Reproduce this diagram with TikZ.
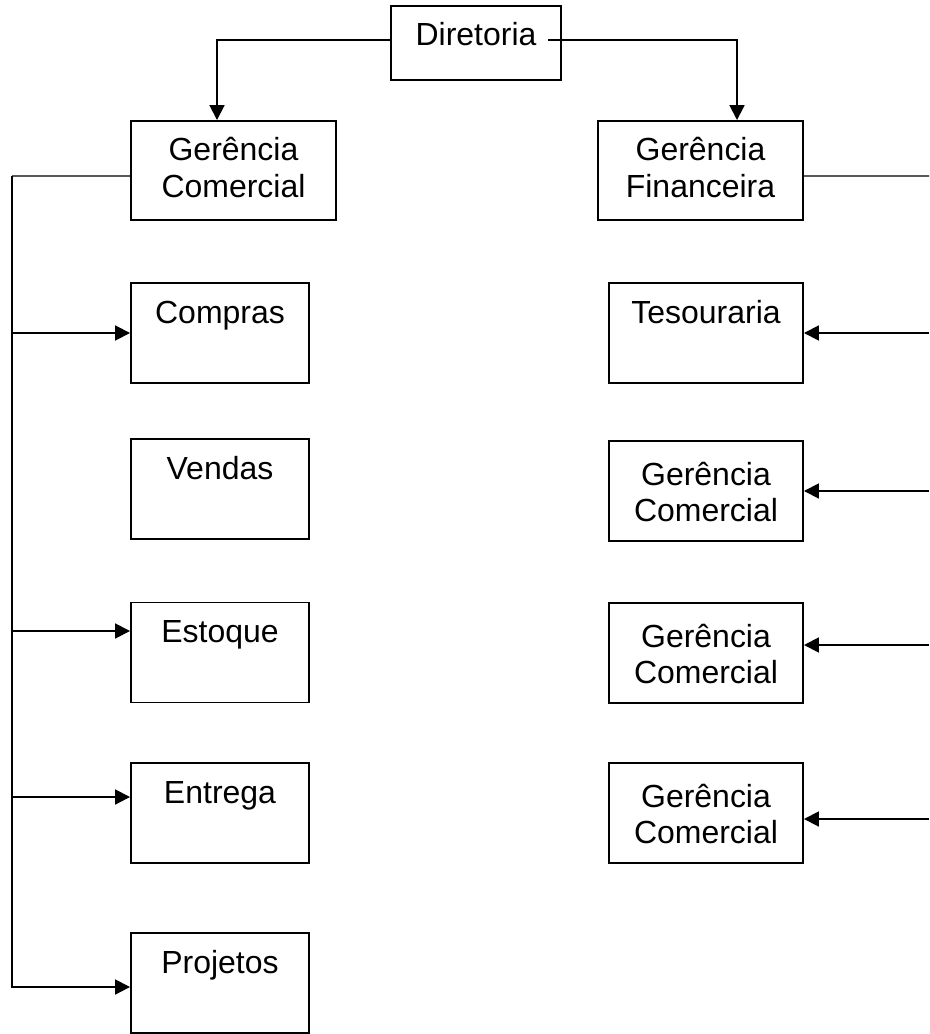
\documentclass[tikz,border=0pt]{standalone}
\usepackage{fontspec}
\setmainfont{Liberation Sans}
\usetikzlibrary{arrows.meta,positioning}

\begin{document}
\begin{tikzpicture}[
    unit/.style={rectangle, draw, line width=1.1pt, minimum width=4.1cm, minimum height=1.98cm, inner sep=0pt, text width=3.3cm, align=center, text height=0.8cm, text depth=1.18cm, font=\fontsize{18.2}{20.5}\selectfont},
    dept/.style={unit, minimum width=3.56cm, minimum height=2cm, text depth=1.2cm},
    fin/.style={unit, minimum width=3.88cm, minimum height=2cm, text depth=1.2cm},
    arrow/.style={-{Triangle[length=8.5pt,width=8.5pt]}, line width=1.1pt},
    link/.style={line width=0.6pt}
]
    \useasboundingbox (0,0) rectangle (18.58,-20.68);

    % topo
    \node[unit, minimum width=3.4cm, minimum height=1.48cm, text depth=0.68cm] (diretoria) at (9.52, -0.86) {Diretoria};

    % gerencias
    \node[unit] (comercial) at (4.67, -3.41) {Gerência\\Comercial};
    \node[unit] (financeira) at (14.01, -3.41) {Gerência\\Financeira};

    % departamentos comerciais
    \node[dept] (compras) at (4.40, -6.66) {Compras};
    \node[dept] (vendas) at (4.40, -9.78) {Vendas};
    \node[dept] (estoque) at (4.40, -13.05) {Estoque};
    \node[dept] (entrega) at (4.40, -16.26) {Entrega};
    \node[dept] (projetos) at (4.40, -19.66) {Projetos};

    % departamentos financeiros
    \node[fin] (tesouraria) at (14.12, -6.66) {Tesouraria};
    \node[fin, text height=0.88cm, text depth=1.12cm] (gerA) at (14.12, -9.82) {Gerência\\Comercial};
    \node[fin, text height=0.88cm, text depth=1.12cm] (gerB) at (14.12, -13.06) {Gerência\\Comercial};
    \node[fin, text height=0.88cm, text depth=1.12cm] (gerC) at (14.12, -16.26) {Gerência\\Comercial};

    % ligacoes da diretoria
    \draw[arrow] ([yshift=0.06cm]diretoria.west) -| ([xshift=-0.33cm]comercial.north);
    \draw[arrow] ([xshift=-0.28cm, yshift=0.06cm]diretoria.east) -| ([xshift=0.73cm]financeira.north);

    % barramento esquerdo
    \coordinate (spine) at (0.24, -3.52);
    \draw[link] ([yshift=-0.11cm]comercial.west) -- (spine);
    \draw[arrow] (spine) |- ([yshift=-0.08cm]projetos.west);
    \draw[arrow] (spine |- compras.west) -- (compras.west);
    \draw[arrow] ([yshift=0.43cm]estoque.west -| spine) -- ([yshift=0.43cm]estoque.west);
    \draw[arrow] ([yshift=0.32cm]entrega.west -| spine) -- ([yshift=0.32cm]entrega.west);

    % barramento direito
    \coordinate (rbus) at (18.58, -3.52);
    \draw[link] ([yshift=-0.11cm]financeira.east) -- (rbus);
    \draw[arrow] (rbus |- tesouraria.east) -- (tesouraria.east);
    \draw[arrow] (rbus |- gerA.east) -- (gerA.east);
    \draw[arrow] ([yshift=0.16cm]gerB.east -| rbus) -- ([yshift=0.16cm]gerB.east);
    \draw[arrow] ([yshift=-0.12cm]gerC.east -| rbus) -- ([yshift=-0.12cm]gerC.east);
\end{tikzpicture}
\end{document}
